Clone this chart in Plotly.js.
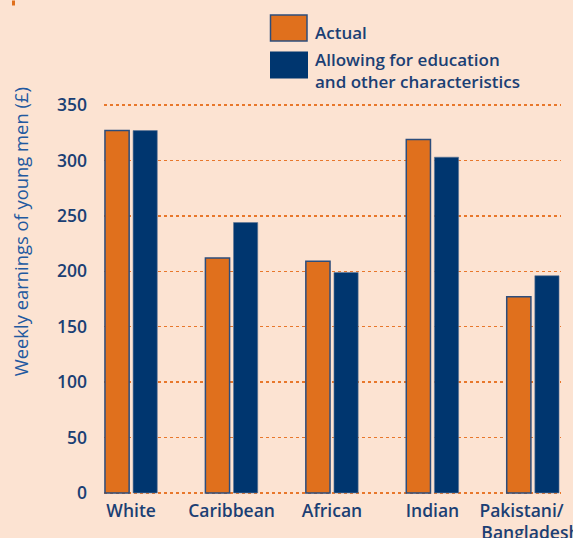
<!DOCTYPE html>
<html>
<head>
<meta charset="utf-8">
<script src="https://cdn.plot.ly/plotly-3.0.1.min.js"></script>
<style>
  html, body { margin: 0; padding: 0; background: #fce3d2; }
  #chart { width: 573px; height: 538px; }
</style>
</head>
<body>
<div id="chart"></div>
<script>
// ---- data ----
const categories = ["White", "Caribbean", "African", "Indian", "Pakistani/&nbsp;&nbsp;&nbsp;&nbsp;&nbsp;<br>Bangladeshi"];
const actual = [327, 212, 209, 319, 177];
const allowing = [327, 244, 199, 303, 196];
const seriesNames = ["Actual", "Allowing for education<br>and other characteristics"];
const yTicks = [0, 50, 100, 150, 200, 250, 300, 350];

// ---- styling ----
const BG = "#fce3d2";
const ORANGE = "#e0701d";
const NAVY = "#00366f";
const TEXT = "#1b3f74";
const TITLE = "#2259a0";
const GRID = "#e8772b";
const FONT = "Open Sans";

const W = 573, H = 538;
const M = { l: 104, r: 12, t: 103.6, b: 44 };
const PW = W - M.l - M.r, PH = H - M.t - M.b;
const px = x => (x - M.l) / PW;        // pixel -> paper x
const py = y => (H - M.b - y) / PH;     // pixel -> paper y

const traces = [
  {
    type: "bar", name: seriesNames[0], x: categories, y: actual,
    marker: { color: ORANGE, line: { color: "#2c4d7c", width: 1.5 } },
    hoverinfo: "skip"
  },
  {
    type: "bar", name: seriesNames[1], x: categories, y: allowing,
    marker: { color: NAVY, line: { color: "#5d7596", width: 0.6 } },
    hoverinfo: "skip"
  }
];

const layout = {
  width: W, height: H,
  margin: M,
  paper_bgcolor: BG, plot_bgcolor: BG,
  showlegend: false,
  barmode: "group",
  bargap: 0.44,
  bargroupgap: 0.14,
  font: { family: FONT, color: TEXT, size: 17 },
  xaxis: {
    type: "category",
    range: [-0.27, 4.28],
    showgrid: false, zeroline: false, showline: false,
    ticks: "", ticklabelstandoff: 4,
    tickfont: { family: FONT, size: 17.5, color: TEXT, weight: 600 },
    fixedrange: true
  },
  yaxis: {
    range: [-1, 351],
    tickvals: yTicks,
    showgrid: true, gridcolor: GRID, gridwidth: 1.4, griddash: "dot",
    zeroline: false, showline: false,
    ticks: "", ticklabelstandoff: 16,
    tickfont: { family: FONT, size: 17.5, color: TEXT, weight: 600 },
    fixedrange: true
  },
  shapes: [
    { type: "rect", xref: "paper", yref: "paper",
      x0: px(270.5), x1: px(307), y0: py(40.5), y1: py(14.5),
      fillcolor: ORANGE, line: { color: "#2c4d7c", width: 1.5 } },
    { type: "rect", xref: "paper", yref: "paper",
      x0: px(270), x1: px(308), y0: py(78), y1: py(51),
      fillcolor: NAVY, line: { width: 0 } },
    { type: "rect", xref: "paper", yref: "paper",
      x0: px(12), x1: px(15), y0: py(5), y1: py(0),
      fillcolor: ORANGE, line: { width: 0 } }
  ],
  annotations: [
    { xref: "paper", yref: "paper", x: px(313), y: py(32), xanchor: "left", yanchor: "middle",
      text: seriesNames[0], showarrow: false, align: "left",
      font: { family: FONT, size: 17, color: TEXT, weight: 600 } },
    { xref: "paper", yref: "paper", x: px(313), y: py(70), xanchor: "left", yanchor: "middle",
      text: seriesNames[1], showarrow: false, align: "left",
      font: { family: FONT, size: 17, color: TEXT, weight: 600 } },
    { xref: "paper", yref: "paper", x: px(20), y: py(232), xanchor: "center", yanchor: "middle",
      text: "Weekly earnings of young men (£)", textangle: -90, showarrow: false,
      font: { family: FONT, size: 18.4, color: TITLE } }
  ]
};

Plotly.newPlot("chart", traces, layout, { displayModeBar: false, staticPlot: true });
</script>
</body>
</html>
